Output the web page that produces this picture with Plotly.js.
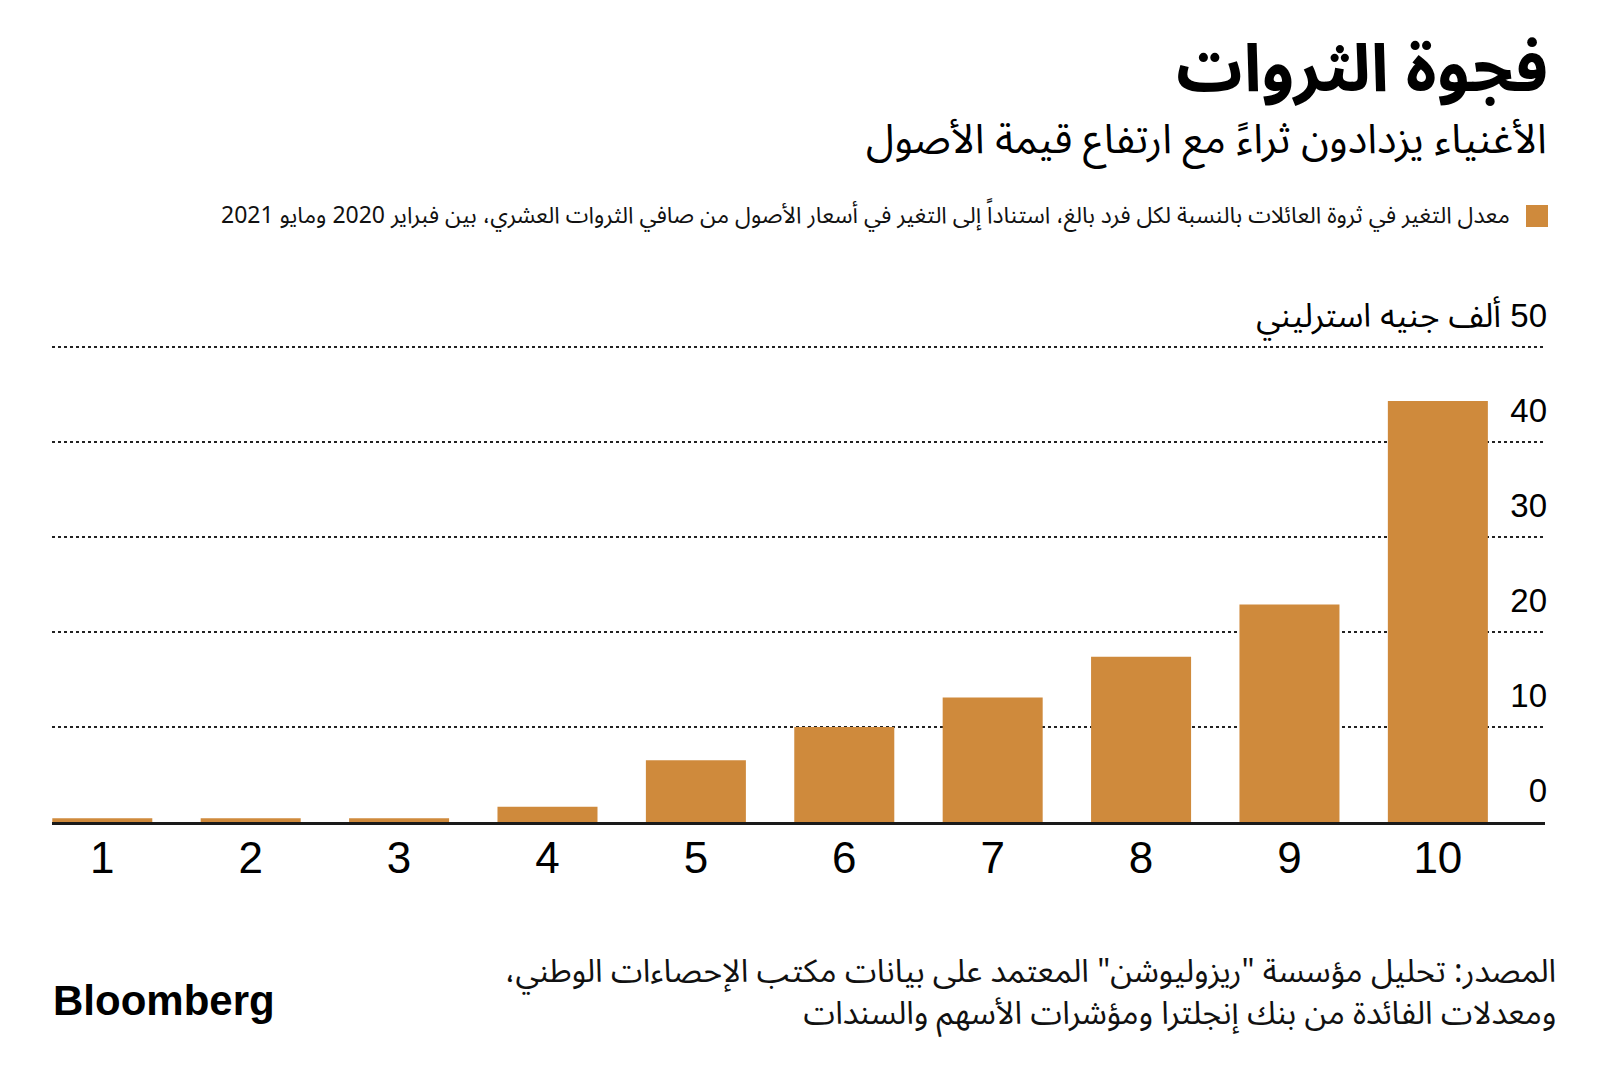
<!DOCTYPE html>
<html>
<head>
<meta charset="utf-8">
<script src="https://cdn.plot.ly/plotly-3.0.1.min.js"></script>
<style>html,body{margin:0;padding:0;background:#fff;}#chart{width:1600px;height:1079px;}</style>
</head>
<body>
<div id="chart"></div>
<script>
// Data
const deciles = [1, 2, 3, 4, 5, 6, 7, 8, 9, 10];
const wealthChange = [0.4, 0.4, 0.4, 1.6, 6.5, 10.0, 13.1, 17.4, 22.9, 44.3];
const yTickVals = [0, 10, 20, 30, 40, 50];
const yTickText = ['0', '10', '20', '30', '40', '\u202B50 ألف جنيه استرليني\u202C'];
const xTickText = ['1', '2', '3', '4', '5', '6', '7', '8', '9', '10'];

const titleText = 'فجوة الثروات';
const subtitleText = 'الأغنياء يزدادون ثراءً مع ارتفاع قيمة الأصول';
const legendText = 'معدل التغير في ثروة العائلات بالنسبة لكل فرد بالغ، استناداً إلى التغير في أسعار الأصول من صافي الثروات العشري، بين فبراير 2020 ومايو 2021';
const sourceLine1 = 'المصدر: تحليل مؤسسة "ريزوليوشن" المعتمد على بيانات مكتب الإحصاءات الوطني،';
const sourceLine2 = 'ومعدلات الفائدة من بنك إنجلترا ومؤشرات الأسهم والسندات';

const rtl = s => '\u202B' + s + '\u202C';
const AR = "'Noto Sans Arabic', 'DejaVu Sans', sans-serif";
const NUM = "'Liberation Sans', 'Noto Sans Arabic', 'DejaVu Sans', sans-serif";
const BAR = '#CF8A3C';

const W = 1600, H = 1079, L = 52, R = 55, T = 344, B = 257;
const pw = W - L - R, ph = H - T - B;
const px = x => (x - L) / pw;
const py = y => (H - B - y) / ph;

const trace = {
  type: 'bar',
  x: deciles,
  y: wealthChange,
  marker: {color: BAR, line: {width: 0}},
  hoverinfo: 'x+y',
  showlegend: false
};

const layout = {
  width: W, height: H,
  paper_bgcolor: '#ffffff', plot_bgcolor: '#ffffff',
  margin: {l: L, r: R, t: T, b: B, pad: 0},
  bargap: 0.326,
  showlegend: false,
  title: {
    text: '<b>' + rtl(titleText) + '</b>',
    font: {family: AR, size: 66, color: '#000'},
    xref: 'container', yref: 'container',
    x: 1548 / W, xanchor: 'right',
    y: 1 - 68 / H, yanchor: 'middle'
  },
  xaxis: {
    type: 'linear',
    range: [0.661, 10.722],
    tickmode: 'array', tickvals: deciles, ticktext: xTickText,
    tickfont: {family: NUM, size: 44, color: '#000'},
    showgrid: false, zeroline: false,
    showline: true, linecolor: '#1a1a1a', linewidth: 2.5,
    ticks: '', ticklabelstandoff: -4,
    fixedrange: true
  },
  yaxis: {
    range: [0, 50.3],
    side: 'right',
    tickmode: 'array', tickvals: yTickVals, ticktext: yTickText,
    ticklabelposition: 'inside top',
    ticklabeloverflow: 'allow',
    ticklabelshift: -8,
    ticklabelstandoff: -5,
    tickfont: {family: NUM, size: 33, color: '#000'},
    showgrid: true, gridcolor: '#222', gridwidth: 1.6, griddash: 'dot',
    zeroline: false, showline: false, ticks: '',
    fixedrange: true
  },
  shapes: [
    {type: 'rect', xref: 'paper', yref: 'paper',
     x0: px(1526), x1: px(1548), y0: py(227), y1: py(205),
     fillcolor: BAR, line: {width: 0}}
  ],
  annotations: [
    {text: rtl(subtitleText), xref: 'paper', yref: 'paper', x: px(1549), y: py(140),
     xanchor: 'right', yanchor: 'middle', showarrow: false,
     font: {family: AR, size: 41, color: '#000'}},
    {text: rtl(legendText), xref: 'paper', yref: 'paper', x: px(1512), y: py(216),
     xanchor: 'right', yanchor: 'middle', showarrow: false,
     font: {family: AR, size: 23, color: '#111'}},
    {text: rtl(sourceLine1) + '<br>' + rtl(sourceLine2), xref: 'paper', yref: 'paper',
     x: px(1558), y: py(993), align: 'right',
     xanchor: 'right', yanchor: 'middle', showarrow: false,
     font: {family: AR, size: 32, color: '#111'}},
    {text: '<b>Bloomberg</b>', xref: 'paper', yref: 'paper', x: px(51), y: py(1000),
     xanchor: 'left', yanchor: 'middle', showarrow: false,
     font: {family: "'Liberation Sans', Arial, sans-serif", size: 42, color: '#000'}}
  ]
};

Plotly.newPlot('chart', [trace], layout, {displayModeBar: false, staticPlot: true});
</script>
</body>
</html>
